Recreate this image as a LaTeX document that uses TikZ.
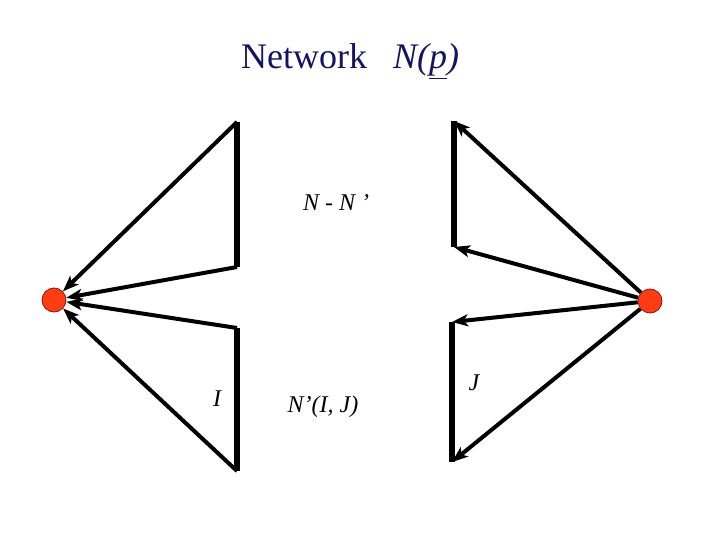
\documentclass[tikz,border=0pt]{standalone}
\usepackage{fontspec}
\setmainfont{Liberation Serif}
\usetikzlibrary{arrows.meta}
\definecolor{navy}{RGB}{20,20,100}
\definecolor{dotred}{RGB}{255,60,20}
\definecolor{dotedge}{RGB}{150,20,10}
\begin{document}
\begin{tikzpicture}[x=1pt,y=-1pt,
  vbar/.style={line width=5.5pt},
  arr/.style={line width=4pt,-{Stealth[length=16pt,width=12pt,inset=4pt]}},
  dotnode/.style={circle,fill=dotred,draw=dotedge,line width=0.8pt,minimum size=24pt,inner sep=0pt},
  lbl/.style={font=\fontsize{24}{26}\selectfont\itshape,inner sep=0pt}]
\useasboundingbox (0,0) rectangle (720,540);
% dots
\node[dotnode] (L) at (54,300) {};
\node[dotnode] (R) at (650,301) {};
% left coordinates
\coordinate (la) at (237,122);
\coordinate (lb) at (237,267);
\coordinate (lc) at (237,328);
\coordinate (ld) at (237,471);
% right coordinates
\coordinate (ra) at (454,121);
\coordinate (rb) at (454,247);
\coordinate (rc) at (452,322);
\coordinate (rd) at (452,462);
% vertical bars
\draw[vbar] (la) -- (lb);
\draw[vbar] (lc) -- (ld);
\draw[vbar] (ra) -- (rb);
\draw[vbar] (rc) -- (rd);
% left arrows into dot
\draw[arr] (la) -- (L);
\draw[arr] (lb) -- (L);
\draw[arr] (lc) -- (L);
\draw[arr] (ld) -- (L);
% right arrows out of dot
\draw[arr] (R) -- (ra);
\draw[arr] (R) -- (rb);
\draw[arr] (R) -- (rc);
\draw[arr] (R) -- (rd);
% texts
\node[font=\fontsize{36}{38}\selectfont,text=navy,anchor=base west,inner sep=0pt] (title) at (241,69) {Network};
\node[font=\fontsize{36}{38}\selectfont\itshape,text=navy,anchor=base west,inner sep=0pt] (np) at (393,69) {N(\underline{p})};
\node[lbl,anchor=base] (nn) at (336,211) {N - N ’};
\node[lbl,anchor=base] (i) at (217,406) {I};
\node[lbl,anchor=base] (nij) at (323,412) {N’(I, J)};
\node[lbl,anchor=base] (j) at (474,390) {J};
\end{tikzpicture}
\end{document}
